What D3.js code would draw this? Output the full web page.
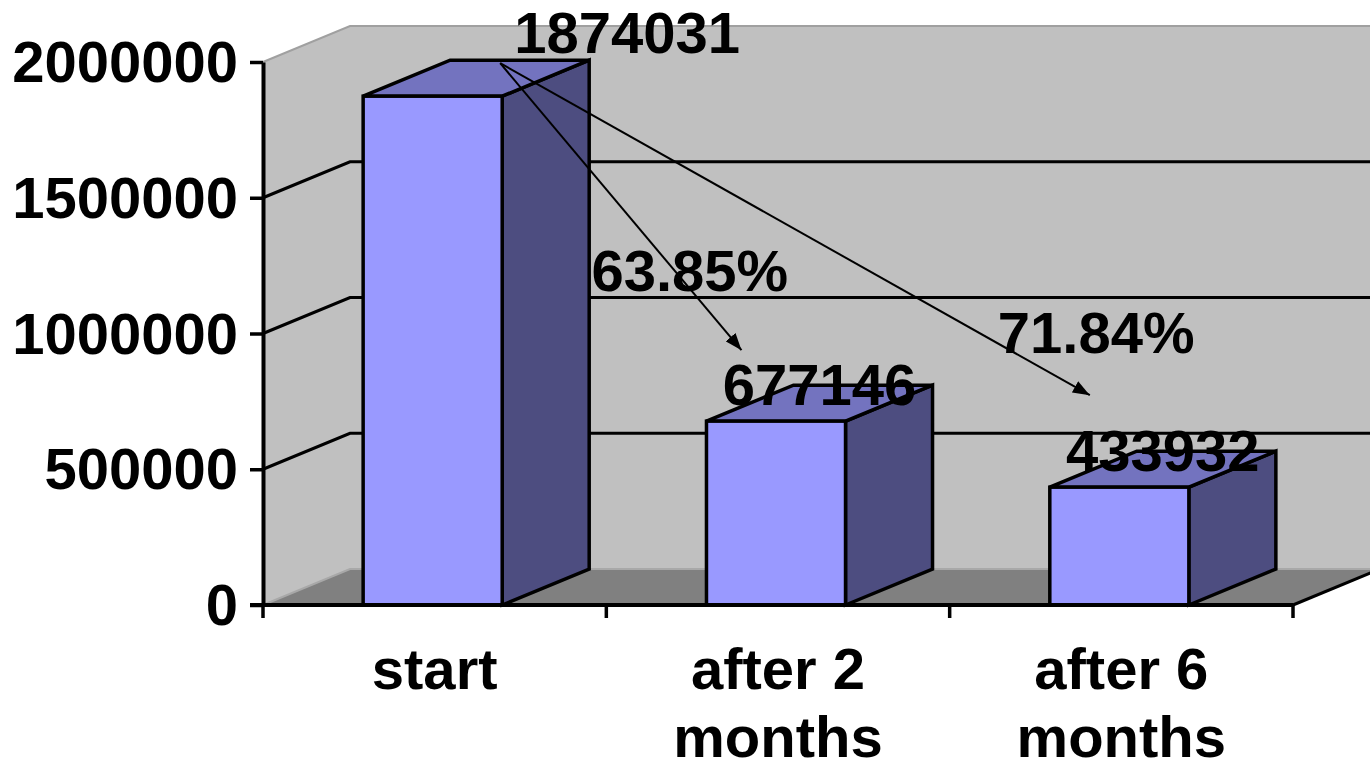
<!DOCTYPE html>
<html>
<head>
<meta charset="utf-8">
<script src="https://cdn.jsdelivr.net/npm/d3@7"></script>
<style>
  html, body { margin: 0; padding: 0; background: #fff; }
  svg { display: block; }
  text { font-family: "Liberation Sans", Arial, sans-serif; font-weight: bold; fill: #000; }
</style>
</head>
<body>
<svg id="chart" width="1370" height="769"></svg>
<script>
// Counts at each stage
const categories = ["start", "after 2 months", "after 6 months"];
const values = [1874031, 677146, 433932];
const yTicks = [0, 500000, 1000000, 1500000, 2000000];
// Reduction annotations: from first stage to a later stage
const reductionTargets = ["after 2 months", "after 6 months"];
const reductionLabels = ["63.85%", "71.84%"];

const W = 1370, H = 769;
const DX = 87, DY = -36;          // 3D depth offset
const FONT = 58;

const svg = d3.select("#chart");

const y = d3.scaleLinear().domain([0, 2000000]).range([605, 62]);
const x = d3.scaleBand().domain(categories).range([263, 1293])
  .paddingInner(0.595).paddingOuter(0.2975);

const [x0, x1] = x.range();
const y0 = y(0), yTop = y(2000000);
const bw = x.bandwidth();
const barX = c => x(c) - 2;

// ---- walls and floor ----
const walls = svg.append("g");
const pts = a => a.map(p => p.join(",")).join(" ");

// back wall
walls.append("polygon")
  .attr("points", pts([[x0 + DX, yTop + DY], [x1 + DX, yTop + DY], [x1 + DX, y0 + DY], [x0 + DX, y0 + DY]]))
  .attr("fill", "#c0c0c0");
// side wall
walls.append("polygon")
  .attr("points", pts([[x0, yTop], [x0 + DX, yTop + DY], [x0 + DX, y0 + DY], [x0, y0]]))
  .attr("fill", "#c0c0c0");
// floor
walls.append("polygon")
  .attr("points", pts([[x0, y0], [x0 + DX, y0 + DY], [x1 + DX, y0 + DY], [x1, y0]]))
  .attr("fill", "#808080");

// light wall edges
walls.append("polyline")
  .attr("points", pts([[x0, yTop], [x0 + DX, yTop + DY], [x1 + DX, yTop + DY]]))
  .attr("fill", "none").attr("stroke", "#a0a0a0").attr("stroke-width", 2);
walls.append("polyline")
  .attr("points", pts([[x0, y0], [x0 + DX, y0 + DY], [x1 + DX, y0 + DY]]))
  .attr("fill", "none").attr("stroke", "#a8a8a8").attr("stroke-width", 2);
// floor right edge
walls.append("line")
  .attr("x1", x1).attr("y1", y0).attr("x2", x1 + DX).attr("y2", y0 + DY)
  .attr("stroke", "#000").attr("stroke-width", 3);

// gridlines on side and back wall
const grid = svg.append("g");
grid.selectAll("polyline")
  .data(yTicks.filter(t => t > 0 && t < 2000000))
  .join("polyline")
  .attr("points", t => pts([[x0, y(t)], [x0 + DX, y(t) + DY], [x1 + DX, y(t) + DY]]))
  .attr("fill", "none").attr("stroke", "#000").attr("stroke-width", 3);

// ---- bars ----
const bars = svg.append("g").attr("stroke", "#000").attr("stroke-width", 3.5)
  .attr("stroke-linejoin", "miter");
const data = categories.map((c, i) => ({ c, v: values[i] }));

const bar = bars.selectAll("g").data(data).join("g");
bar.append("polygon") // side
  .attr("fill", "#4d4d80")
  .attr("points", d => {
    const r = barX(d.c) + bw, t = y(d.v);
    return pts([[r, t], [r + DX, t + DY], [r + DX, y0 + DY], [r, y0]]);
  });
bar.append("polygon") // top
  .attr("fill", "#7373bf")
  .attr("points", d => {
    const l = barX(d.c), r = l + bw, t = y(d.v);
    return pts([[l, t], [r, t], [r + DX, t + DY], [l + DX, t + DY]]);
  });
bar.append("rect") // front
  .attr("fill", "#9999ff")
  .attr("x", d => barX(d.c)).attr("width", bw)
  .attr("y", d => y(d.v)).attr("height", d => y0 - y(d.v));

// ---- axes ----
const yAxis = d3.axisLeft(y).tickValues(yTicks).tickFormat(d3.format("d"))
  .tickSize(13).tickPadding(12).tickSizeOuter(0);
const gy = svg.append("g").attr("transform", `translate(${x0},0)`).call(yAxis);
gy.select(".domain").attr("stroke-width", 4);
gy.selectAll(".tick line").attr("stroke-width", 3.5);
gy.selectAll(".tick text").attr("font-size", FONT)
  .style("font-family", '"Liberation Sans", Arial, sans-serif').style("font-weight", "bold")
  .attr("dy", "0.34em");

// x axis line and category boundary ticks
const xg = svg.append("g");
xg.append("line").attr("x1", x0 - 13).attr("x2", x1).attr("y1", y0).attr("y2", y0)
  .attr("stroke", "#000").attr("stroke-width", 4);
const bounds = d3.range(categories.length + 1).map(i => x0 + i * x.step());
xg.selectAll(".bt").data(bounds).join("line").attr("class", "bt")
  .attr("x1", d => d).attr("x2", d => d).attr("y1", y0).attr("y2", y0 + 13)
  .attr("stroke", "#000").attr("stroke-width", 3.5);

// category labels, wrapped to band width
const catText = xg.selectAll(".cat").data(categories).join("text").attr("class", "cat")
  .attr("text-anchor", "middle").attr("font-size", FONT)
  .attr("x", c => x(c) + bw / 2).attr("y", 689);
catText.each(function (c) {
  const t = d3.select(this);
  const words = c.split(" ");
  let line = [], lines = [];
  const probe = t.append("tspan");
  words.forEach(w => {
    const test = line.concat(w).join(" ");
    probe.text(test);
    if (probe.node().getComputedTextLength() > x.step() - 20 && line.length) {
      lines.push(line.join(" "));
      line = [w];
    } else line.push(w);
  });
  lines.push(line.join(" "));
  probe.remove();
  lines.forEach((l, i) => {
    t.append("tspan").attr("x", t.attr("x")).attr("dy", i ? 68 : 0).text(l);
  });
});

// ---- value labels ----
const labelShift = { "start": [151, -27] };
svg.append("g").selectAll("text").data(data).join("text")
  .attr("text-anchor", "middle").attr("font-size", FONT)
  .attr("x", d => barX(d.c) + bw / 2 + DX / 2 + (labelShift[d.c] ? labelShift[d.c][0] : 0))
  .attr("y", d => y(d.v) - 16 + (labelShift[d.c] ? labelShift[d.c][1] : 0))
  .text(d => d.v);

// ---- reduction arrows ----
const defs = svg.append("defs");
defs.append("marker").attr("id", "head")
  .attr("viewBox", "0 0 17 13").attr("refX", 17).attr("refY", 6.5)
  .attr("markerWidth", 17).attr("markerHeight", 13)
  .attr("markerUnits", "userSpaceOnUse").attr("orient", "auto")
  .append("path").attr("d", "M0,0 L17,6.5 L0,13 Z").attr("fill", "#000");

const origin = [barX(categories[0]) + bw - 2, y(values[0]) + DY + 3];
// arrow tips placed above each target bar; percentage text relative to tip
const tipOffset = [[35, -71], [40, -92]];
const textOffset = [[-150, -59], [-92, -42]];
const arr = svg.append("g");
reductionTargets.forEach((c, i) => {
  const v = values[categories.indexOf(c)];
  const tip = [barX(c) + tipOffset[i][0], y(v) + tipOffset[i][1]];
  arr.append("line")
    .attr("x1", origin[0]).attr("y1", origin[1]).attr("x2", tip[0]).attr("y2", tip[1])
    .attr("stroke", "#000").attr("stroke-width", 2).attr("marker-end", "url(#head)");
  arr.append("text").attr("font-size", FONT)
    .attr("x", tip[0] + textOffset[i][0]).attr("y", tip[1] + textOffset[i][1])
    .text(reductionLabels[i]);
});
</script>
</body>
</html>
